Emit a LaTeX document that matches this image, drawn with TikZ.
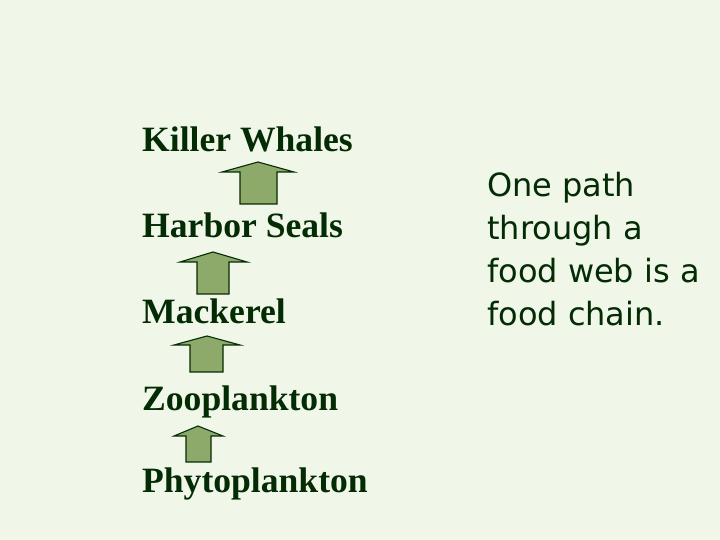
\documentclass[tikz,border=0pt]{standalone}
\usepackage{fontspec}
\setmainfont{Liberation Serif}
\newfontfamily\notefont{DejaVu Sans}
\usepackage{tikz}
\usetikzlibrary{positioning}

\definecolor{slidebg}{RGB}{240,246,232}
\definecolor{darkgreen}{RGB}{4,44,4}
\definecolor{arrowgreen}{RGB}{141,170,107}

\begin{document}
\begin{tikzpicture}[x=1pt, y=1pt,
  food node/.style={anchor=base west, inner sep=0pt, text=darkgreen,
    font=\fontsize{35.6}{42}\selectfont\bfseries},
  note node/.style={anchor=north west, inner sep=0pt, text=darkgreen, align=left,
    font=\notefont\fontsize{32}{43}\selectfont},
  block arrow/.style={draw=darkgreen, fill=arrowgreen, line width=1.1pt, line join=miter}]

\fill[slidebg] (0,0) rectangle (720,540);
\useasboundingbox (0,0) rectangle (720,540);

\node[food node] (W) at (142,388) {Killer Whales};
\node[food node] (S) at (142,302) {Harbor Seals};
\node[food node] (M) at (142,216) {Mackerel};
\node[food node] (Z) at (142,129) {Zooplankton};
\node[food node] (P) at (142,47) {Phytoplankton};

\node[note node] (T) at (487,368) {One path\\through a\\food web is a\\food chain.};

% arrows up the chain
\draw[block arrow] (240,336) -- (240,368) -- (222,368) -- (258,378) -- (294,368) -- (277,368) -- (277,336) -- cycle;
\draw[block arrow] (197,246) -- (197,278) -- (180,278) -- (213,288) -- (247,278) -- (229,278) -- (229,246) -- cycle;
\draw[block arrow] (190,168) -- (190,195) -- (174,195) -- (207,204) -- (240,195) -- (223,195) -- (223,168) -- cycle;
\draw[block arrow] (186,78) -- (186,104) -- (174,104) -- (198,114) -- (223,104) -- (211,104) -- (211,78) -- cycle;

\end{tikzpicture}
\end{document}
